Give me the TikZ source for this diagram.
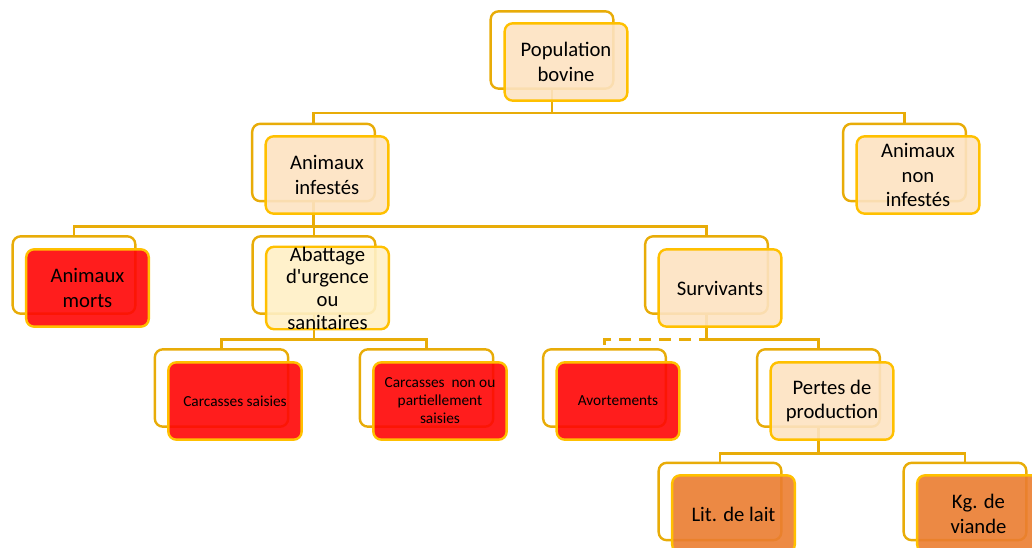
\documentclass[tikz,border=0pt]{standalone}
\usepackage{fontspec}
\setmainfont{Carlito}
\definecolor{linegold}{RGB}{232,172,8}
\definecolor{rimgold}{RGB}{255,192,0}
\definecolor{peach}{RGB}{253,227,194}
\definecolor{cream}{RGB}{255,240,198}
\definecolor{redfill}{RGB}{255,5,5}
\definecolor{orangefill}{RGB}{235,125,48}
\tikzstyle{back}=[draw=linegold,fill=white,line width=1.8pt,rounded corners=6pt,minimum width=92pt,minimum height=58pt,inner sep=0pt]
\tikzstyle{front}=[draw=rimgold,line width=1.8pt,rounded corners=6pt,fill opacity=0.9,text opacity=1,minimum width=92pt,minimum height=58pt,inner sep=0pt,align=center,font=\fontsize{15.5}{18.5}\selectfont]
\tikzstyle{peachbox}=[front,fill=peach]
\tikzstyle{creambox}=[front,fill=cream,font=\fontsize{15.5}{17}\selectfont]
\tikzstyle{redbox}=[front,fill=redfill]
\tikzstyle{orangebox}=[front,fill=orangefill]
\tikzstyle{wide}=[minimum width=100pt]
\tikzstyle{small}=[font=\fontsize{11.5}{13.5}\selectfont]
\tikzstyle{link}=[-,draw=linegold,line width=1.8pt]
\pgfdeclarelayer{edgelayer}
\pgfdeclarelayer{nodelayer}
\pgfsetlayers{edgelayer,nodelayer,main}

\begin{document}
\begin{tikzpicture}[x=0.75pt,y=-0.75pt]
	\useasboundingbox (0,0) rectangle (1032,548);
	\begin{pgfonlayer}{nodelayer}
		\node [style=peachbox] (pop) at (566, 62) {Population\\bovine};
		\node [style=peachbox] (inf) at (327, 175) {Animaux\\infestés};
		\node [style=peachbox] (non) at (918, 175) {Animaux\\non\\infestés};
		\node [style=redbox] (morts) at (87.5, 288) {Animaux\\morts};
		\node [style=creambox] (abat) at (327.5, 288) {Abattage\\d\textquotesingle urgence\\ou\\sanitaires};
		\node [style=peachbox] (surv) at (720, 288) {Survivants};
		\node [style=redbox, wide, small] (carcS) at (235, 401) {Carcasses saisies};
		\node [style=redbox, wide, small] (carcN) at (440, 401) {Carcasses\ \ non ou\\partiellement\\saisies};
		\node [style=redbox, small] (avort) at (618, 401) {Avortements};
		\node [style=peachbox] (pertes) at (832, 401) {Pertes de\\production};
		\node [style=orangebox] (lait) at (733.5, 514) {Lit. de lait};
		\node [style=orangebox] (viande) at (978.5, 514) {Kg. de\\viande};
	\end{pgfonlayer}
	\begin{pgfonlayer}{edgelayer}
		\node [style=back] (popB) at (552, 50) {};
		\node [style=back] (infB) at (313.5, 162.5) {};
		\node [style=back] (nonB) at (904.5, 162.5) {};
		\node [style=back] (mortsB) at (74, 275) {};
		\node [style=back] (abatB) at (314, 275) {};
		\node [style=back] (survB) at (706.5, 275) {};
		\node [style=back, wide] (carcSB) at (221.5, 388) {};
		\node [style=back, wide] (carcNB) at (426.5, 388) {};
		\node [style=back] (avortB) at (604.5, 388) {};
		\node [style=back] (pertesB) at (818.5, 388) {};
		\node [style=back] (laitB) at (720, 501.5) {};
		\node [style=back] (viandeB) at (965, 501.5) {};

		\draw [style=link] (popB.south) -- ++(0,23) -| (infB.north);
		\draw [style=link] (popB.south) -- ++(0,23) -| (nonB.north);
		\draw [style=link] (infB.south) -- ++(0,24) -| (mortsB.north);
		\draw [style=link] (infB.south) -- ++(0,24) -| (abatB.north);
		\draw [style=link] (infB.south) -- ++(0,24) -| (survB.north);
		\draw [style=link] (abatB.south) -- ++(0,24.5) -| (carcSB.north);
		\draw [style=link] (abatB.south) -- ++(0,24.5) -| (carcNB.north);

		% avortements hangs off survivants with a dashed branch
		\draw [style=link, dash pattern=on 9pt off 6pt] (survB.south) -- ++(0,24.5) -| (avortB.north);
		\draw [style=link] (survB.south) -- ++(0,24.5) -| (pertesB.north);
		\draw [style=link] (pertesB.south) -- ++(0,25.5) -| (laitB.north);
		\draw [style=link] (pertesB.south) -- ++(0,25.5) -| (viandeB.north);
	\end{pgfonlayer}
\end{tikzpicture}
\end{document}
